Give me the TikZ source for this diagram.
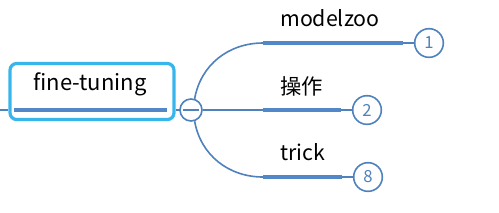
\documentclass[tikz,border=0pt]{standalone}
\usepackage{fontspec}
\setmainfont{Noto Sans CJK SC}
\usepackage{tikz}
\usetikzlibrary{arrows.meta,positioning,calc}
\definecolor{linkblue}{RGB}{79,129,189}
\definecolor{barblue}{RGB}{82,136,200}
\definecolor{boxblue}{RGB}{56,182,236}
\begin{document}
\begin{tikzpicture}[x=.75pt,y=-.75pt,
  link/.style={linkblue,line width=1.2pt},
  bar/.style={barblue,line width=3.6pt},
  num/.style={circle,draw=linkblue,line width=1.2pt,fill=white,text=linkblue,minimum size=21.5pt,inner sep=0pt,font=\fontsize{12.5}{14}\selectfont},
  label/.style={anchor=west,inner sep=0pt,font=\fontsize{16}{18}\selectfont}]
\useasboundingbox (0,0) rectangle (499,212);
% central topic
\node[draw=boxblue,line width=2.4pt,rounded corners=5pt,minimum width=123pt,minimum height=42pt] (ft) at (92,91.5) {};
\node[inner sep=0pt,font=\fontsize{16.5}{18}\selectfont] (ftlabel) at (90,84) {fine-tuning};
\coordinate (in) at (0,110);
\coordinate (ftbar1) at (14,110);
\coordinate (ftbar2) at (167,110);
\draw[link] (in) -- (ft.west |- in);
\draw[bar] (ftbar1) -- (ftbar2);
% collapse knob
\draw[link] (ft.east |- 0,110) -- (191,110);
\node[circle,draw=linkblue,line width=1.2pt,fill=white,minimum size=16.5pt,inner sep=0pt] (col) at (191,110) {};
\draw[link] ([xshift=-6pt]col.center) -- ([xshift=6pt]col.center);
% branches
\coordinate (t1) at (263,43);   \coordinate (e1) at (403,43);
\coordinate (t2) at (263,110);  \coordinate (e2) at (341,110);
\coordinate (t3) at (263,177);  \coordinate (e3) at (342,177);
\draw[link] (col.72) to[out=80,in=180] (t1);
\draw[link] (col.east) -- (t2);
\draw[link] (col.-72) to[out=-80,in=180] (t3);
\draw[bar] (t1) -- (e1);
\draw[bar] (t2) -- (e2);
\draw[bar] (t3) -- (e3);
\node[num] (n1) at (429,43) {1};
\node[num] (n2) at (367,110) {2};
\node[num] (n3) at (368,177) {8};
\draw[link] (e1) -- (n1);
\draw[link] (e2) -- (n2);
\draw[link] (e3) -- (n3);
\node[label] (modelzoo) at (280,18) {modelzoo};
\node[label] (caozuo) at (280,86) {操作};
\node[label] (trick) at (280,152) {trick};
\end{tikzpicture}
\end{document}
